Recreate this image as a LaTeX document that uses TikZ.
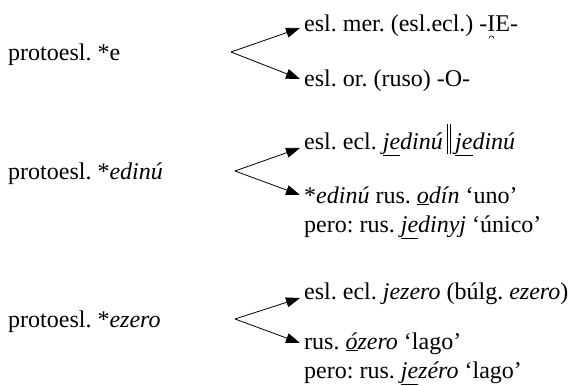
\documentclass[tikz,border=0pt]{standalone}
\usepackage{fontspec}
\setmainfont{Liberation Serif}
\usetikzlibrary{arrows.meta}
\frenchspacing
% tall double bar separating the two spellings
\newcommand{\dbar}{\,\rule[-0.22em]{1.2pt}{1.25em}\hspace{2pt}\rule[-0.22em]{1.2pt}{1.25em}\,}
% letter with a small arch (non-syllabic mark) below it
\newcommand{\nonsyl}[1]{\tikz[baseline=0pt]{\node[inner sep=0pt,anchor=base] (ns) {#1};
  \draw[line width=0.6pt] ([xshift=-2.6pt,yshift=-6.5pt]ns.base) arc[start angle=180,end angle=0,radius=2.6pt];}}
\newcommand{\undl}[1]{\underline{#1}}
\begin{document}
\begin{tikzpicture}[x=1pt,y=-1pt,
  every node/.style={font=\fontsize{24}{29}\selectfont},
  % multi-line texts are placed by the baseline of their last line
  word/.style={anchor=base west, inner sep=0pt, align=left},
  branch/.style={line width=0.8pt, -{Triangle[length=14pt,width=10pt]}}]
\useasboundingbox (0,0) rectangle (577,385);

% --- *e
\node[word] (p1) at (8,61) {protoesl. *e};
\node[word] (a1) at (304,32) {esl. mer. (esl.ecl.) -\nonsyl{I}E-};
\node[word] (b1) at (304,87) {esl. or. (ruso) -O-};
\coordinate (v1) at (231,52);
\coordinate (t1a) at (300,28);
\coordinate (t1b) at (300,79);
\draw[branch] (v1) -- (t1a);
\draw[branch] (v1) -- (t1b);

% --- *edinu
\node[word] (p2) at (8,179) {protoesl. *\textit{edinú}};
\node[word] (a2) at (304,149) {esl. ecl. \textit{\undl{je}dinú}\dbar\textit{\undl{je}dinú}};
\node[word] (b2) at (304,232) {*\textit{edinú} rus. \textit{\undl{o}dín} ‘uno’\\pero: rus. \textit{\undl{je}dinyj} ‘único’};
\coordinate (v2) at (235,171);
\coordinate (t2a) at (300,148);
\coordinate (t2b) at (300,195);
\draw[branch] (v2) -- (t2a);
\draw[branch] (v2) -- (t2b);

% --- *ezero
\node[word] (p3) at (8,327) {protoesl. *\textit{ezero}};
\node[word] (a3) at (304,299) {esl. ecl. \textit{jezero} (búlg. \textit{ezero})};
\node[word] (b3) at (304,378) {rus. \textit{\undl{ó}zero} ‘lago’\\pero: rus. \textit{\undl{je}zéro} ‘lago’};
\coordinate (v3) at (235,319);
\coordinate (t3a) at (300,298);
\coordinate (t3b) at (300,343);
\draw[branch] (v3) -- (t3a);
\draw[branch] (v3) -- (t3b);
\end{tikzpicture}
\end{document}
